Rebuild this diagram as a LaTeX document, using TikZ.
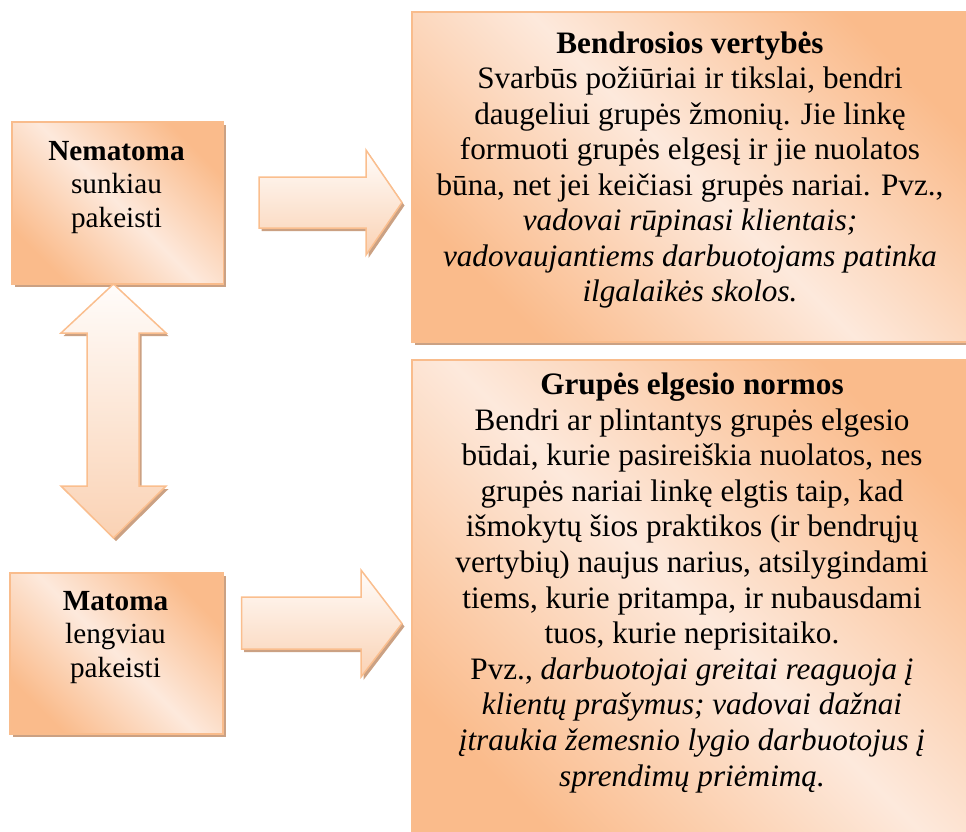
\documentclass[tikz,border=0pt]{standalone}
\usepackage{fontspec}
\setmainfont{Liberation Serif}
\usetikzlibrary{shadows}
\definecolor{boxdark}{RGB}{250,187,139}
\definecolor{boxlight}{RGB}{253,233,220}
\definecolor{boxline}{RGB}{249,188,140}
\definecolor{shadowc}{RGB}{203,161,131}
\definecolor{arrtop}{RGB}{255,252,250}
\definecolor{arrbot}{RGB}{250,210,180}
\definecolor{arrline}{RGB}{250,190,142}
\begin{document}
\begin{tikzpicture}[x=1pt,y=-1pt,
  box/.style={draw=boxline, line width=1.5pt, left color=boxdark, right color=boxdark,
    middle color=boxlight, shading angle=135,
    drop shadow={shadow xshift=3pt, shadow yshift=-3.5pt, fill=shadowc, opacity=1},
    anchor=north west, inner sep=0pt},
  blockarrow/.style={draw=arrline, line width=1.5pt, top color=arrtop, bottom color=arrbot,
    drop shadow={shadow xshift=2.5pt, shadow yshift=-3pt, fill=shadowc, opacity=1},
    line join=miter},
  smalltxt/.style={font=\fontsize{29.2}{33.5}\selectfont, align=center, anchor=base, inner sep=0pt},
  toptxt/.style={font=\fontsize{31.2}{35.5}\selectfont, align=center, anchor=base, inner sep=0pt},
  bottxt/.style={font=\fontsize{31.2}{35.6}\selectfont, align=center, anchor=base, inner sep=0pt}]
\useasboundingbox (0,0) rectangle (966,831);
\clip (0,0) rectangle (966,831);

% boxes
\node[box, minimum width=211.5pt, minimum height=162pt] (nem) at (11,121) {};
\node[box, minimum width=213pt, minimum height=161pt] (mat) at (9,572) {};
\node[box, minimum width=565pt, minimum height=330pt] (val) at (411,11) {};
\node[box, minimum width=565pt, minimum height=490pt] (norm) at (411,359) {};

% texts (anchor = baseline of the last line)
\node[smalltxt] (nemT) at (116.5,227) {\textbf{Nematoma}\\sunkiau\\pakeisti};
\node[smalltxt] (matT) at (115.5,677) {\textbf{Matoma}\\lengviau\\pakeisti};
\node[toptxt] (valT) at (690,301.5) {\textbf{Bendrosios vertybės}\\
Svarbūs požiūriai ir tikslai, bendri\\
daugeliui grupės žmonių. Jie linkę\\
formuoti grupės elgesį ir jie nuolatos\\
būna, net jei keičiasi grupės nariai. Pvz.,\\
\textit{vadovai rūpinasi klientais;}\\
\textit{vadovaujantiems darbuotojams patinka}\\
\textit{ilgalaikės skolos.}};
\node[bottxt] (normT) at (692,786) {\textbf{Grupės elgesio normos}\\
Bendri ar plintantys grupės elgesio\\
būdai, kurie pasireiškia nuolatos, nes\\
grupės nariai linkę elgtis taip, kad\\
išmokytų šios praktikos (ir bendrųjų\\
vertybių) naujus narius, atsilygindami\\
tiems, kurie pritampa, ir nubausdami\\
tuos, kurie neprisitaiko.\\
Pvz., \textit{darbuotojai greitai reaguoja į}\\
\textit{klientų prašymus; vadovai dažnai}\\
\textit{įtraukia žemesnio lygio darbuotojus į}\\
\textit{sprendimų priėmimą.}};

% block arrows
\draw[blockarrow] (259,177) -- (366,177) -- (366,150) -- (402,202.5) -- (366,255)
  -- (366,228) -- (259,228) -- cycle;
\draw[blockarrow] (241.5,597) -- (361,597) -- (361,570) -- (402,623.5) -- (361,677)
  -- (361,649) -- (241.5,649) -- cycle;
\draw[blockarrow] (113.5,284) -- (166,333) -- (139,333) -- (139,486) -- (166,486)
  -- (113.5,538) -- (61,486) -- (87,486) -- (87,333) -- (61,333) -- cycle;
\end{tikzpicture}
\end{document}
